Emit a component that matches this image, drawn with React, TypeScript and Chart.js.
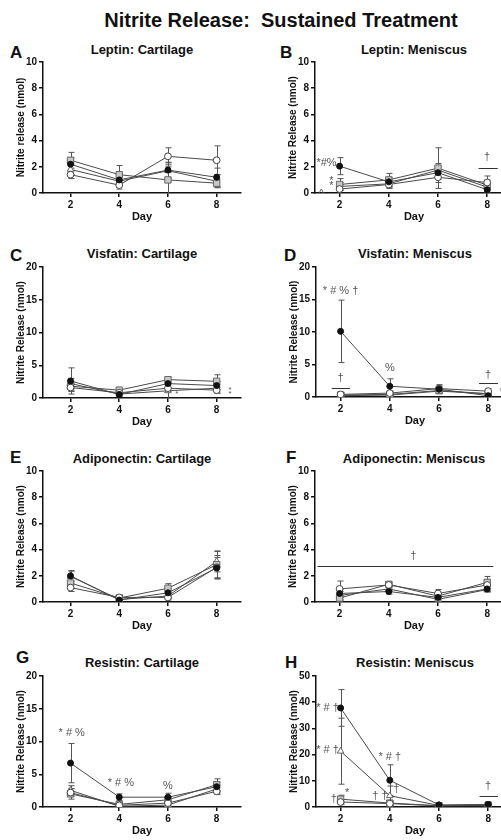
import React, { useEffect, useRef } from 'react';
import { Chart, registerables } from 'chart.js';

Chart.register(...registerables);
Chart.defaults.font.family = '"Liberation Sans", Arial, sans-serif';

// ---------------- DATA ----------------
const days = [2, 4, 6, 8];
const dayTickLabels = ['2', '4', '6', '8'];
const seriesNames = ['Group 1', 'Group 2', 'Group 3', 'Group 4'];

// series order: [filled circle, open circle, grey square, open triangle]
const leptinCartilageMeans = [[2.2, 1.0, 1.75, 1.2], [1.4, 0.6, 2.8, 2.5], [2.5, 1.4, 1.0, 0.75], [1.8, 0.9, 1.7, 0.9]];
const leptinCartilageErrors = [[0.5, 0.5, 0.6, 0.7], [0.3, 0.3, 0.65, 1.1], [0.6, 0.7, 1.0, 0.3], [0.4, 0.3, 0.6, 0.5]];

const leptinMeniscusMeans = [[2.05, 0.85, 1.55, 0.25], [0.3, 0.65, 1.2, 0.8], [0.65, 1.0, 1.9, 0.6], [0.5, 0.7, 1.75, 0.45]];
const leptinMeniscusErrors = [[0.65, 0.35, 0.5, 0.2], [0.3, 0.3, 0.4, 0.5], [0.45, 0.5, 1.55, 0.4], [0.3, 0.3, 0.5, 0.3]];

const visfatinCartilageMeans = [[2.6, 0.55, 2.2, 1.9], [1.6, 0.8, 1.5, 1.2], [1.8, 1.2, 2.8, 2.55], [2.2, 0.6, 1.1, 1.5]];
const visfatinCartilageErrors = [[2.0, 0.3, 0.6, 0.6], [0.6, 0.3, 0.5, 0.5], [0.7, 0.3, 0.4, 1.0], [0.8, 0.3, 1.1, 0.6]];

const visfatinMeniscusMeans = [[10.1, 1.65, 1.2, 0.2], [0.4, 0.6, 1.3, 0.9], [0.3, 0.4, 1.0, 0.5], [0.2, 0.3, 0.9, 0.5]];
const visfatinMeniscusErrors = [[4.8, 1.15, 0.7, 0.3], [0.3, 0.3, 0.4, 0.4], [0.2, 0.2, 0.3, 0.3], [0.2, 0.2, 0.3, 0.2]];

const adiponectinCartilageMeans = [[2.0, 0.15, 0.7, 2.6], [1.1, 0.35, 0.35, 2.65], [1.45, 0.3, 1.05, 2.85], [1.95, 0.2, 0.45, 3.1]];
const adiponectinCartilageErrors = [[0.4, 0.15, 0.3, 0.8], [0.3, 0.2, 0.2, 0.9], [0.4, 0.2, 0.35, 1.0], [0.4, 0.15, 0.2, 0.8]];

const adiponectinMeniscusMeans = [[0.65, 0.8, 0.35, 1.0], [1.0, 1.3, 0.65, 1.3], [0.3, 1.35, 0.45, 1.5], [0.5, 1.0, 0.2, 0.95]];
const adiponectinMeniscusErrors = [[0.3, 0.2, 0.15, 0.2], [0.6, 0.15, 0.3, 0.4], [0.2, 0.15, 0.2, 0.45], [0.3, 0.15, 0.15, 0.2]];

const resistinCartilageMeans = [[6.7, 1.5, 1.5, 3.1], [2.2, 0.25, 0.6, 2.4], [2.0, 0.4, 1.1, 3.4], [2.55, 0.1, 0.3, 2.75]];
const resistinCartilageErrors = [[3.0, 0.5, 0.6, 0.7], [0.6, 0.2, 0.3, 0.5], [0.8, 0.3, 0.5, 0.9], [0.7, 0.1, 0.2, 0.6]];

const resistinMeniscusMeans = [[37.8, 10.2, 0.8, 1.0], [1.9, 1.3, 0.4, 0.6], [3.0, 1.5, 0.5, 0.8], [21.3, 4.3, 0.6, 0.5]];
const resistinMeniscusErrors = [[7.0, 5.9, 0.4, 0.4], [1.0, 0.8, 0.3, 0.3], [1.5, 1.0, 0.3, 0.3], [12.6, 3.7, 0.3, 0.3]];

// significance marks (data coordinates)
const leptinMeniscusMarks = [
  { x: 1.47, y: 2.3, t: '*#%' }, { x: 1.67, y: 0.95, t: '*' }, { x: 1.67, y: 0.5, t: '*' },
  { x: 1.26, y: -0.1, t: '^' }, { x: 8.0, y: 2.75, t: '†' },
];
const leptinMeniscusLines = [{ x1: 7.65, x2: 8.43, y: 1.88 }];
const visfatinCartilageMarks = [{ x: 6.36, y: 0.6, t: '*', s: 8 }, { x: 8.55, y: 1.3, t: '*', s: 8 }, { x: 8.55, y: 0.6, t: '*', s: 8 }];
const visfatinMeniscusMarks = [
  { x: 2.0, y: 16.3, t: '* # % †' }, { x: 4.0, y: 4.45, t: '%' }, { x: 2.0, y: 2.9, t: '†' },
  { x: 8.0, y: 3.4, t: '†' }, { x: 8.6, y: 0.9, t: '%', s: 8 },
];
const visfatinMeniscusLines = [{ x1: 1.64, x2: 2.38, y: 1.4 }, { x1: 7.63, x2: 8.4, y: 2.1 }];
const adiponectinMeniscusMarks = [{ x: 5.0, y: 3.5, t: '†' }];
const adiponectinMeniscusLines = [{ x1: 1.1, x2: 8.25, y: 2.72 }];
const resistinCartilageMarks = [{ x: 2.05, y: 11.35, t: '* # %' }, { x: 4.07, y: 3.6, t: '* # %' }, { x: 6.0, y: 3.25, t: '%' }];
const resistinMeniscusMarks = [
  { x: 1.47, y: 37.9, t: '* # †' }, { x: 1.47, y: 21.6, t: '* # †' }, { x: 1.72, y: 3.0, t: '†' },
  { x: 2.27, y: 5.3, t: '*' }, { x: 4.0, y: 19.0, t: '* # †' }, { x: 3.6, y: 4.3, t: '† †' },
  { x: 4.27, y: 6.9, t: '†' }, { x: 8.0, y: 8.1, t: '†' },
];
const resistinMeniscusLines = [{ x1: 7.65, x2: 8.4, y: 4.3 }];

// ---------------- STYLE / LAYOUT ----------------
const FONT = '"Liberation Sans", Arial, sans-serif';
const seriesStyle = [
  { pointStyle: 'circle', radius: 3.0, bg: '#111', border: '#111' },
  { pointStyle: 'circle', radius: 3.4, bg: '#fff', border: '#444' },
  { pointStyle: 'rect', radius: 4.5, bg: '#c8c8c8', border: '#666' },
  { pointStyle: 'triangle', radius: 3.8, bg: '#fff', border: '#666' },
];

const LEFT_X = { min: 0.87, max: 9.0 };
const RIGHT_X = { min: 1.0, max: 9.05 };

type Panel = {
  letter: string; title: string; yTitle: string; means: number[][]; errors: number[][];
  yMax: number; yStep: number; xr: { min: number; max: number };
  plot: { l: number; t: number; w: number; h: number };
  letterPos: { x: number; y: number }; titleY: number;
  marks?: { x: number; y: number; t: string; s?: number }[];
  lines?: { x1: number; x2: number; y: number }[];
};

const panels: Panel[] = [
  { letter: 'A', title: 'Leptin: Cartilage', yTitle: 'Nitrite release (nmol)', means: leptinCartilageMeans, errors: leptinCartilageErrors, yMax: 10, yStep: 2, xr: LEFT_X, plot: { l: 43, t: 62, w: 198, h: 131 }, letterPos: { x: 10, y: 53 }, titleY: 50 },
  { letter: 'B', title: 'Leptin: Meniscus', yTitle: 'Nitrite Release (nmol)', means: leptinMeniscusMeans, errors: leptinMeniscusErrors, yMax: 10, yStep: 2, xr: RIGHT_X, plot: { l: 315, t: 62, w: 198, h: 131 }, letterPos: { x: 280, y: 53 }, titleY: 50, marks: leptinMeniscusMarks, lines: leptinMeniscusLines },
  { letter: 'C', title: 'Visfatin: Cartilage', yTitle: 'Nitrite Release (nmol)', means: visfatinCartilageMeans, errors: visfatinCartilageErrors, yMax: 20, yStep: 5, xr: LEFT_X, plot: { l: 43, t: 267, w: 198, h: 131 }, letterPos: { x: 10, y: 256 }, titleY: 254, marks: visfatinCartilageMarks },
  { letter: 'D', title: 'Visfatin: Meniscus', yTitle: 'Nitrite Release (nmol)', means: visfatinMeniscusMeans, errors: visfatinMeniscusErrors, yMax: 20, yStep: 5, xr: RIGHT_X, plot: { l: 316, t: 267, w: 198, h: 130 }, letterPos: { x: 284, y: 256 }, titleY: 254, marks: visfatinMeniscusMarks, lines: visfatinMeniscusLines },
  { letter: 'E', title: 'Adiponectin: Cartilage', yTitle: 'Nitrite Release (nmol)', means: adiponectinCartilageMeans, errors: adiponectinCartilageErrors, yMax: 10, yStep: 2, xr: LEFT_X, plot: { l: 43, t: 471, w: 198, h: 131 }, letterPos: { x: 10, y: 458 }, titleY: 459 },
  { letter: 'F', title: 'Adiponectin: Meniscus', yTitle: 'Nitrite Release (nmol)', means: adiponectinMeniscusMeans, errors: adiponectinMeniscusErrors, yMax: 10, yStep: 2, xr: RIGHT_X, plot: { l: 315, t: 471, w: 198, h: 131 }, letterPos: { x: 286, y: 458 }, titleY: 459, marks: adiponectinMeniscusMarks, lines: adiponectinMeniscusLines },
  { letter: 'G', title: 'Resistin: Cartilage', yTitle: 'Nitrite Release (nmol)', means: resistinCartilageMeans, errors: resistinCartilageErrors, yMax: 20, yStep: 5, xr: LEFT_X, plot: { l: 43, t: 676, w: 198, h: 131 }, letterPos: { x: 16, y: 658 }, titleY: 663, marks: resistinCartilageMarks },
  { letter: 'H', title: 'Resistin: Meniscus', yTitle: 'Nitrite Release (nmol)', means: resistinMeniscusMeans, errors: resistinMeniscusErrors, yMax: 50, yStep: 10, xr: RIGHT_X, plot: { l: 316, t: 676, w: 198, h: 131 }, letterPos: { x: 285, y: 663 }, titleY: 663, marks: resistinMeniscusMarks, lines: resistinMeniscusLines },
];

const PAD_L = 5, Y_W = 38, PAD_R = 9, PAD_T = 10, X_H = 31, PAD_B = 2;

const errorBarPlugin = {
  id: 'errorBars',
  beforeDatasetsDraw(chart: any, _args: any, opts: any) {
    const { ctx, scales: { x, y } } = chart;
    const errs: number[][] = opts.errors || [];
    ctx.save();
    ctx.strokeStyle = '#555';
    ctx.lineWidth = 1;
    chart.data.datasets.forEach((ds: any, i: number) => {
      ds.data.forEach((pt: any, j: number) => {
        const e = errs[i] ? errs[i][j] : 0;
        if (!e) return;
        const px = Math.round(x.getPixelForValue(pt.x)) + 0.5;
        const top = y.getPixelForValue(pt.y + e);
        const lowV = pt.y - e;
        const bot = y.getPixelForValue(Math.max(0, lowV));
        ctx.beginPath();
        ctx.moveTo(px, top); ctx.lineTo(px, bot);
        ctx.moveTo(px - 3, top); ctx.lineTo(px + 3, top);
        if (lowV > 0) { ctx.moveTo(px - 3, bot); ctx.lineTo(px + 3, bot); }
        ctx.stroke();
      });
    });
    ctx.restore();
  },
};

const marksPlugin = {
  id: 'sigMarks',
  afterDatasetsDraw(chart: any, _args: any, opts: any) {
    const { ctx, scales: { x, y } } = chart;
    ctx.save();
    ctx.strokeStyle = '#333';
    ctx.lineWidth = 1;
    (opts.lines || []).forEach((ln: any) => {
      const yy = Math.round(y.getPixelForValue(ln.y)) + 0.5;
      ctx.beginPath();
      ctx.moveTo(x.getPixelForValue(ln.x1), yy);
      ctx.lineTo(x.getPixelForValue(ln.x2), yy);
      ctx.stroke();
    });
    ctx.fillStyle = '#555';
    ctx.textAlign = 'center';
    ctx.textBaseline = 'middle';
    (opts.marks || []).forEach((m: any) => {
      ctx.font = `${m.s || 11}px ${FONT}`;
      ctx.fillText(m.t, x.getPixelForValue(m.x), y.getPixelForValue(m.y));
    });
    ctx.restore();
  },
};

function PanelChart({ p }: { p: Panel }) {
  const ref = useRef<HTMLCanvasElement>(null);
  const cw = PAD_L + Y_W + p.plot.w + PAD_R;
  const ch = PAD_T + p.plot.h + X_H + PAD_B;
  const cl = p.plot.l - PAD_L - Y_W;
  const ct = p.plot.t - PAD_T;
  useEffect(() => {
    const canvas = ref.current!;
    const chart = new Chart(canvas, {
      type: 'line',
      data: {
        datasets: p.means.map((m, i) => ({
          label: seriesNames[i],
          data: days.map((d, j) => ({ x: d, y: m[j] })),
          borderColor: '#4a4a4a',
          borderWidth: 1,
          pointStyle: seriesStyle[i].pointStyle as any,
          pointRadius: seriesStyle[i].radius,
          pointBackgroundColor: seriesStyle[i].bg,
          pointBorderColor: seriesStyle[i].border,
          pointBorderWidth: 1,
          fill: false,
          tension: 0,
        })),
      },
      options: {
        responsive: false,
        animation: false,
        events: [],
        layout: { padding: { left: PAD_L, right: PAD_R, top: PAD_T, bottom: PAD_B } },
        plugins: {
          legend: { display: false },
          tooltip: { enabled: false },
          errorBars: { errors: p.errors },
          sigMarks: { marks: p.marks || [], lines: p.lines || [] },
        } as any,
        scales: {
          x: {
            type: 'linear',
            min: p.xr.min,
            max: p.xr.max,
            afterBuildTicks: (s: any) => { s.ticks = days.map((d) => ({ value: d })); },
            afterFit: (s: any) => { s.height = X_H; },
            ticks: {
              callback: (v: any) => { const k = days.indexOf(Number(v)); return k >= 0 ? dayTickLabels[k] : ''; },
              font: { size: 10, weight: 'bold' },
              color: '#111',
              padding: 2,
              maxRotation: 0,
            },
            grid: { display: true, drawOnChartArea: false, drawTicks: true, tickLength: 4, color: '#111', lineWidth: 1.5 },
            border: { display: true, color: '#111', width: 1.5 },
            title: { display: true, text: 'Day', font: { size: 11, weight: 'bold' }, color: '#111', padding: { top: 0, bottom: 0 } },
          },
          y: {
            type: 'linear',
            min: 0,
            max: p.yMax,
            afterFit: (s: any) => { s.width = Y_W; },
            ticks: { stepSize: p.yStep, font: { size: 10, weight: 'bold' }, color: '#111', padding: 2 },
            grid: { display: true, drawOnChartArea: false, drawTicks: true, tickLength: 4, color: '#111', lineWidth: 1.5 },
            border: { display: true, color: '#111', width: 1.5 },
            title: { display: true, text: p.yTitle, font: { size: 10, weight: 'bold' }, color: '#111', padding: { top: 10, bottom: 0 } },
          },
        },
      },
      plugins: [errorBarPlugin, marksPlugin],
    });
    return () => chart.destroy();
  }, []);
  return (
    <canvas ref={ref} width={cw} height={ch}
      style={{ position: 'absolute', left: cl, top: ct, width: cw, height: ch }} />
  );
}

export default function App() {
  return (
    <div style={{ position: 'absolute', left: 0, top: 0, width: 501, height: 840, overflow: 'hidden', background: '#fff', fontFamily: FONT, color: '#111' }}>
      <div style={{ position: 'absolute', left: 61, top: 7, width: 440, textAlign: 'center', fontWeight: 'bold', fontSize: 20, lineHeight: '26px' }}>
        Nitrite Release:&nbsp; Sustained Treatment
      </div>
      {panels.map((p) => (
        <React.Fragment key={p.letter}>
          <div style={{ position: 'absolute', left: p.letterPos.x, top: p.letterPos.y - 10, fontWeight: 'bold', fontSize: 17, lineHeight: '20px' }}>{p.letter}</div>
          <div style={{ position: 'absolute', left: p.plot.l, top: p.titleY - 8, width: p.plot.w, textAlign: 'center', fontWeight: 'bold', fontSize: 13, lineHeight: '16px', whiteSpace: 'nowrap' }}>{p.title}</div>
          <PanelChart p={p} />
        </React.Fragment>
      ))}
    </div>
  );
}
